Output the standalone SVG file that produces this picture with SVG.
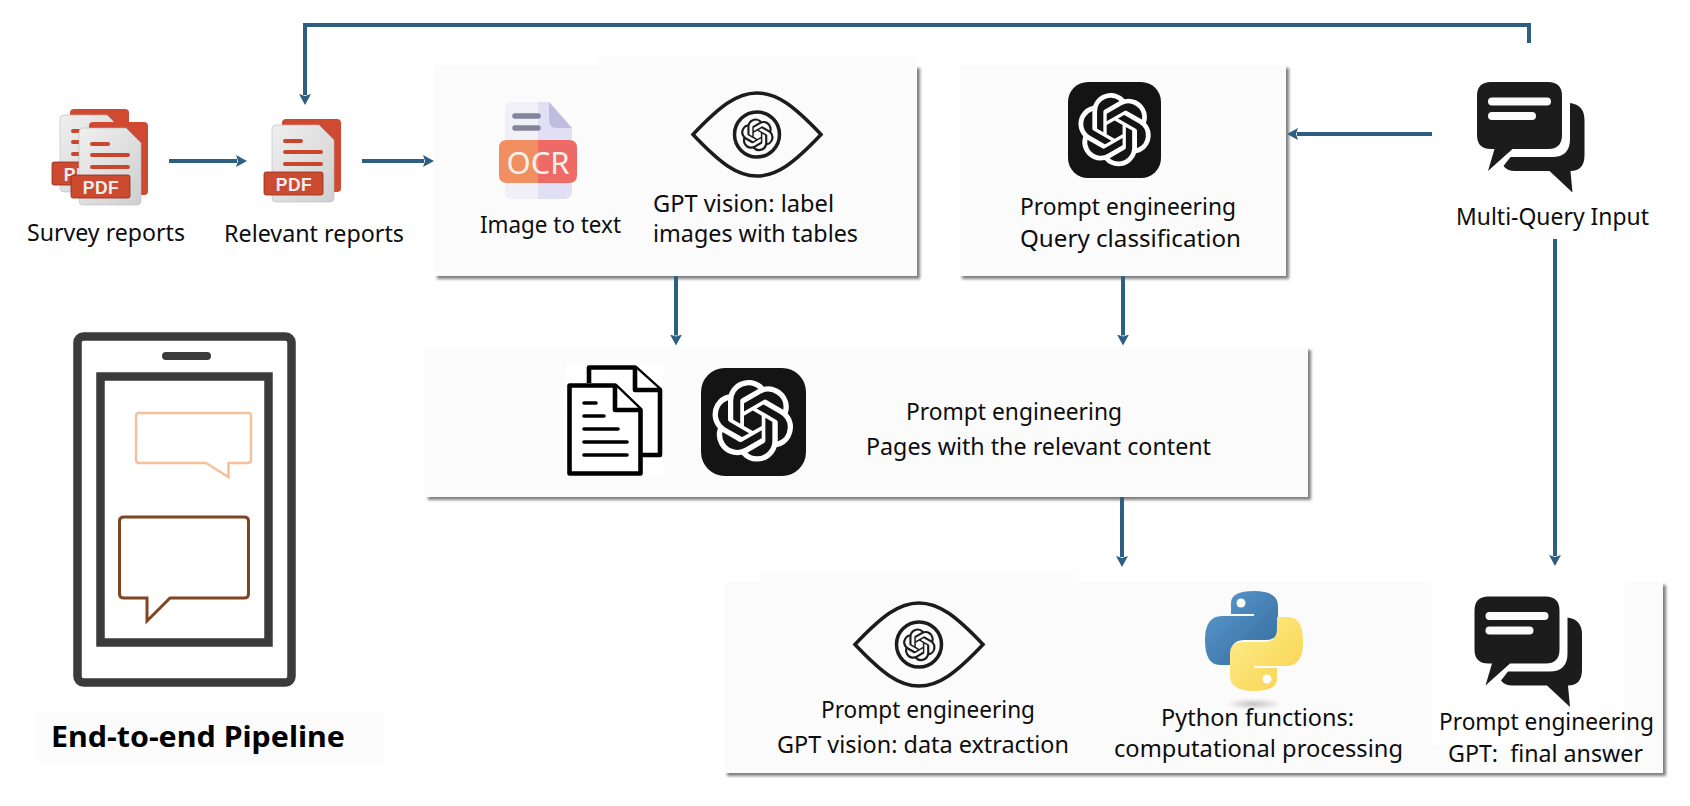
<svg xmlns="http://www.w3.org/2000/svg" xmlns:xlink="http://www.w3.org/1999/xlink" width="1690" height="806" viewBox="0 0 1690 806">
<style>
text{font-family:"Noto Sans","Liberation Sans",sans-serif;font-size:23px;fill:#0d0d0d}
.box{fill:#fbfbfb;filter:url(#sh)}
.tab{fill:#fcfcfc}
.conn{fill:none;stroke:#2e5f82;stroke-width:4;marker-end:url(#ah)}
.eye{fill:none;stroke:#1c1c1c;stroke-width:3.5}
.pdfr{fill:#cf4a30}
.pdfl{fill:none;stroke:#c9452c;stroke-width:4;stroke-linecap:round}
.phone{fill:#fff;stroke:#3b3b3b;stroke-width:8.5}
.doc{fill:#fff;stroke:#000;stroke-width:4.6;stroke-linejoin:round}
.docl{fill:none;stroke:#000;stroke-width:3.6;stroke-linecap:round}
</style>
<defs>
<filter id="sh" x="-5%" y="-5%" width="110%" height="115%"><feDropShadow dx="3" dy="3" stdDeviation="1.8" flood-color="#555" flood-opacity="0.75"/></filter>
<marker id="ah" markerUnits="userSpaceOnUse" markerWidth="12" markerHeight="12" refX="1" refY="6" orient="auto"><path d="M0 0L11 6L0 12L2 6z" fill="#2e5f82"/></marker>
<linearGradient id="pg" x1="0" y1="0" x2="1" y2="1"><stop offset="0" stop-color="#efefef"/><stop offset="1" stop-color="#cfcfcf"/></linearGradient>
<linearGradient id="py1" x1="0" y1="0" x2="1" y2="1"><stop offset="0" stop-color="#5b9bd0"/><stop offset="1" stop-color="#346a9c"/></linearGradient>
<linearGradient id="py2" x1="0" y1="0" x2="1" y2="1"><stop offset="0" stop-color="#f9d24a"/><stop offset="1" stop-color="#fdee92"/></linearGradient>
<radialGradient id="pys"><stop offset="0" stop-color="#c4c4c4"/><stop offset="1" stop-color="#fbfbfb"/></radialGradient>
<path id="knot" d="M22.2819 9.8211a5.9847 5.9847 0 0 0-.5157-4.9108 6.0462 6.0462 0 0 0-6.5098-2.9A6.0651 6.0651 0 0 0 4.9807 4.1818a5.9847 5.9847 0 0 0-3.9977 2.9 6.0462 6.0462 0 0 0 .7427 7.0966 5.98 5.98 0 0 0 .511 4.9107 6.051 6.051 0 0 0 6.5146 2.9001A5.9847 5.9847 0 0 0 13.2599 24a6.0557 6.0557 0 0 0 5.7718-4.2058 5.9894 5.9894 0 0 0 3.9977-2.9001 6.0557 6.0557 0 0 0-.7475-7.0729zm-9.022 12.6081a4.4755 4.4755 0 0 1-2.8764-1.0408l.1419-.0804 4.7783-2.7582a.7948.7948 0 0 0 .3927-.6813v-6.7369l2.02 1.1686a.071.071 0 0 1 .038.052v5.5826a4.504 4.504 0 0 1-4.4945 4.4944zm-9.6607-4.1254a4.4708 4.4708 0 0 1-.5346-3.0137l.142.0852 4.783 2.7582a.7712.7712 0 0 0 .7806 0l5.8428-3.3685v2.3324a.0804.0804 0 0 1-.0332.0615L9.74 19.9502a4.4992 4.4992 0 0 1-6.1408-1.6464zM2.3408 7.8956a4.485 4.485 0 0 1 2.3655-1.9728V11.6a.7664.7664 0 0 0 .3879.6765l5.8144 3.3543-2.0201 1.1685a.0757.0757 0 0 1-.071 0l-4.8303-2.7865A4.504 4.504 0 0 1 2.3408 7.872zm16.5963 3.8558L13.1038 8.364 15.1192 7.2a.0757.0757 0 0 1 .071 0l4.8303 2.7913a4.4944 4.4944 0 0 1-.6765 8.1042v-5.6772a.79.79 0 0 0-.407-.667zm2.0107-3.0231l-.142-.0852-4.7735-2.7818a.7759.7759 0 0 0-.7854 0L9.409 9.2297V6.8974a.0662.0662 0 0 1 .0284-.0615l4.8303-2.7866a4.4992 4.4992 0 0 1 6.6802 4.66zM8.3065 12.863l-2.02-1.1638a.0804.0804 0 0 1-.038-.0567V6.0742a4.4992 4.4992 0 0 1 7.3757-3.4537l-.142.0805L8.704 5.459a.7948.7948 0 0 0-.3927.6813zm1.0976-2.3654l2.602-1.4998 2.6069 1.4998v2.9994l-2.5974 1.4997-2.6067-1.4997Z"/>
<g id="pdf">
<path d="M282 123q0-4 4-4h51q4 0 4 4v65q0 4-4 4h-55z" class="pdfr"/>
<path d="M276 125h43l15 15v58q0 4-4 4h-54q-4 0-4-4v-69q0-4 4-4z" fill="url(#pg)" stroke="#bbb" stroke-width="0.6"/>
<path d="M285 141h16M285 152h36M285 164h36" class="pdfl"/>
<rect x="264" y="172" width="59" height="23" rx="2" fill="#cc4a2f" stroke="#8f2c1a" stroke-width="0.8"/>
<text x="294" y="191" text-anchor="middle" style="font-size:17.5px;font-weight:700;fill:#eeeeee;font-family:'Liberation Sans',sans-serif;letter-spacing:.5px">PDF</text>
</g>
<g id="eye">
<path d="M693 134.5C720 106 737 93 757 93C777 93 794 106 821 134.5C794 163 777 176 757 176C737 176 720 163 693 134.5Z" class="eye"/>
<circle cx="757" cy="134.5" r="22.5" class="eye"/>
<use href="#knot" transform="translate(741 118.5) scale(1.36)" fill="#1c1c1c"/>
</g>
<g id="chat">
<path fill="#1c1c1c" fill-rule="evenodd" d="M1491 82H1548Q1562 82 1562 96V135Q1562 149 1548 149H1512.5L1488 171L1494.5 149H1491Q1477 149 1477 135V96Q1477 82 1491 82Z"/>
<path fill="#1c1c1c" d="M1570 103Q1584.5 105 1584.5 120V155Q1584.5 171 1570.5 171L1572.5 192.5L1549.5 171H1515Q1507 171 1503.5 166L1510.5 157H1552Q1570 157 1570 139Z"/>
<path d="M1492 101.500H1547M1492 116H1532" stroke="#fbfbfb" stroke-width="8" stroke-linecap="round"/>
</g>
</defs>
<rect width="1690" height="806" fill="#fff"/>

<g id="node-survey-reports">
<use href="#pdf" transform="translate(-212 -10)"/>
<use href="#pdf" transform="translate(-193 3)"/>
<text x="27" y="241" textLength="158" lengthAdjust="spacingAndGlyphs">Survey reports</text>
</g>
<g id="node-relevant-reports">
<use href="#pdf"/>
<text x="224" y="242" textLength="180" lengthAdjust="spacingAndGlyphs">Relevant reports</text>
</g>

<g id="node-image-processing">
<rect class="tab" x="598" y="55" width="318" height="12"/>
<rect class="box" x="434" y="65" width="483" height="211"/>
<path d="M505 110q0-8 8-8h25v97h-25q-8 0-8-8z" fill="#f1f0f6"/>
<path d="M538 102h11l23 26v63q0 8-8 8h-26z" fill="#e1dff3"/>
<path d="M549 102l23 26h-15q-8 0-8-8z" fill="#c0bcdf"/>
<path d="M515 116h23M515 128h23" stroke="#85849c" stroke-width="5.500" stroke-linecap="round"/>
<path d="M538 140h-31q-8 0-8 8v27q0 8 8 8h31z" fill="#f18f60"/>
<path d="M538 140h31q8 0 8 8v27q0 8-8 8h-31z" fill="#ee6a66"/>
<text x="538" y="174" text-anchor="middle" style="font-size:31px;fill:#f7efe9">OCR</text>
<use href="#eye"/>
<text x="480" y="233" textLength="141" lengthAdjust="spacingAndGlyphs">Image to text</text>
<text x="653" y="212" textLength="181" lengthAdjust="spacingAndGlyphs">GPT vision: label</text>
<text x="653" y="242" textLength="205" lengthAdjust="spacingAndGlyphs">images with tables</text>
</g>

<g id="node-query-classification">
<rect class="box" x="959" y="65" width="327" height="211"/>
<rect x="1068" y="82" width="93" height="96" rx="20" fill="#141414"/>
<use href="#knot" transform="translate(1078 93) scale(3.05)" fill="#fff"/>
<text x="1020" y="215" textLength="216" lengthAdjust="spacingAndGlyphs">Prompt engineering</text>
<text x="1020" y="247" textLength="221" lengthAdjust="spacingAndGlyphs">Query classification</text>
</g>

<g id="node-multi-query-input">
<use href="#chat"/>
<text x="1456" y="225" textLength="193" lengthAdjust="spacingAndGlyphs">Multi-Query Input</text>
</g>

<g id="node-relevant-pages">
<rect class="box" x="425" y="347" width="883" height="150"/>
<rect x="565" y="365" width="98" height="111" fill="#fff"/>
<path d="M589 383V367.500H635L660 390V455H641" class="doc"/>
<path d="M635 367.500V390H660" class="doc" fill="none"/>
<path d="M569.500 385.500H615L640.500 410V473.500H569.500Z" class="doc"/>
<path d="M615 385.500V410H640.500" class="doc"/>
<path d="M584 403H596M584 416H604M584 429H618M584 442H627M584 455H627" class="docl"/>
<rect x="701" y="368" width="105" height="108" rx="24" fill="#141414"/>
<use href="#knot" transform="translate(712 380) scale(3.4)" fill="#fff"/>
<text x="906" y="420" textLength="216" lengthAdjust="spacingAndGlyphs">Prompt engineering</text>
<text x="866" y="455" textLength="345" lengthAdjust="spacingAndGlyphs">Pages with the relevant content</text>
</g>

<g id="node-data-extraction">
<rect class="tab" x="760" y="570" width="318" height="14"/>
<rect class="box" x="724" y="582" width="939" height="191"/>
<rect x="1431" y="582" width="194" height="163" fill="#fff"/>
<use href="#eye" transform="translate(162 510)"/>
<text x="821" y="718" textLength="214" lengthAdjust="spacingAndGlyphs">Prompt engineering</text>
<text x="777" y="753" textLength="292" lengthAdjust="spacingAndGlyphs">GPT vision: data extraction</text>
<ellipse cx="1254" cy="704" rx="28" ry="6" fill="url(#pys)"/>
<path d="M1254 614H1231V603Q1231 591 1254 591Q1278 591 1278 606V628Q1278 640 1266 640H1245Q1231 640 1231 653V665H1220Q1205 665 1205 640Q1205 616 1222 616H1254Z" fill="url(#py1)"/>
<path d="M1254 614H1231V603Q1231 591 1254 591Q1278 591 1278 606V628Q1278 640 1266 640H1245Q1231 640 1231 653V665H1220Q1205 665 1205 640Q1205 616 1222 616H1254Z" fill="url(#py2)" transform="rotate(180 1254 641)"/>
<circle cx="1241" cy="603" r="4.500" fill="#fff"/>
<circle cx="1267" cy="679" r="4.500" fill="#fff"/>
<text x="1161" y="726" textLength="193" lengthAdjust="spacingAndGlyphs">Python functions:</text>
<text x="1114" y="757" textLength="289" lengthAdjust="spacingAndGlyphs">computational processing</text>
<use href="#chat" transform="translate(-2.500 514.500)"/>
<text x="1439" y="730" textLength="215" lengthAdjust="spacingAndGlyphs">Prompt engineering</text>
<text x="1448" y="762" textLength="195" lengthAdjust="spacingAndGlyphs" xml:space="preserve">GPT:  final answer</text>
</g>

<g id="node-pipeline">
<rect x="77.500" y="336.500" width="214" height="346" rx="6" class="phone"/>
<rect x="162" y="352" width="49" height="8" rx="4" fill="#3b3b3b"/>
<rect x="100.500" y="376.500" width="168" height="266" class="phone"/>
<path d="M139 413H248Q251 413 251 416V460Q251 463 248 463H228.500V477L206 463H139Q136 463 136 460V416Q136 413 139 413Z" fill="#fff" stroke="#f6c09c" stroke-width="2.500"/>
<path d="M124 517H244Q248.500 517 248.500 521V594Q248.500 598 244 598H170L147 621V598H124Q119.500 598 119.500 594V521Q119.500 517 124 517Z" fill="#fff" stroke="#7f4523" stroke-width="3"/>
<rect x="37" y="712" width="347" height="51" fill="#fbfbfb"/>
<text x="51" y="747" textLength="294" lengthAdjust="spacingAndGlyphs" style="font-size:28px;font-weight:700;fill:#000">End-to-end Pipeline</text>
</g>

<g id="connectors">
<path class="conn" d="M1529 43V25H305V95"/>
<path class="conn" d="M169 161H237"/>
<path class="conn" d="M362 161H424"/>
<path class="conn" d="M1432 134H1297"/>
<path class="conn" d="M676 276V335.500"/>
<path class="conn" d="M1123 276V335.500"/>
<path class="conn" d="M1122 497V557"/>
<path class="conn" d="M1555 239V556"/>
</g>
</svg>
